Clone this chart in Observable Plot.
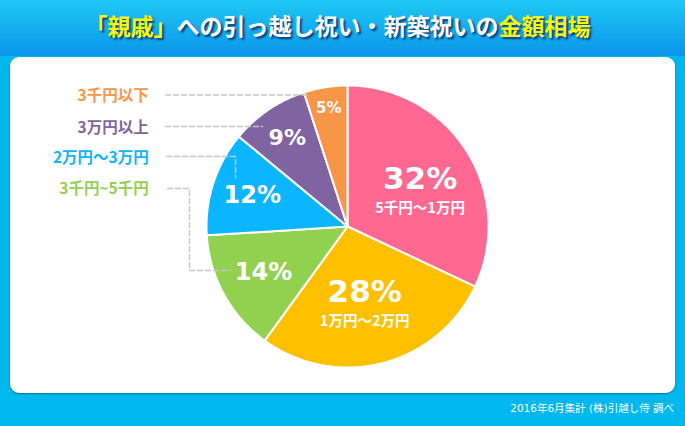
<!DOCTYPE html>
<html><head><meta charset="utf-8">
<script src="https://cdn.jsdelivr.net/npm/d3@7"></script>
<script src="https://cdn.jsdelivr.net/npm/@observablehq/plot@0.6"></script>
<style>
body{margin:0;}
#wrap{position:relative;width:685px;height:426px;background:#00B7EE;overflow:hidden;font-family:"DejaVu Sans","Noto Sans CJK JP",sans-serif;}
#header{position:absolute;left:0;top:0;width:685px;height:56px;background:linear-gradient(#20C8F4,#0A95EA);}
#title{position:absolute;left:-5px;top:8px;width:685px;text-align:center;font-family:"Noto Sans CJK JP",sans-serif;font-weight:bold;font-size:23px;line-height:34px;color:#fff;text-shadow:2px 2px 2px #0B3C78;}
#title .y{color:#F8F812;}
#panel{position:absolute;left:10px;top:57px;width:665px;height:336px;background:#fff;border-radius:9px;box-shadow:0 1px 2px rgba(0,0,0,0.35);}
#panel svg{position:absolute;left:0;top:0;}
#caption{position:absolute;right:11px;top:400px;font-family:"DejaVu Sans","Noto Sans CJK JP",sans-serif;font-size:10.5px;color:#fff;}
g[aria-label="sublabel"] text{letter-spacing:1px;}
g[aria-label="legend"] text{letter-spacing:1px;}
g[aria-label="bigpct"] text{letter-spacing:1px;}
</style>
</head><body>
<div id="wrap">
  <div id="header"></div>
  <div id="title"><span class="y">「親戚」</span>への引っ越し祝い・新築祝いの<span class="y">金額相場</span></div>
  <div id="panel"></div>
  <div id="caption">2016年6月集計 (株)引越し侍 調べ</div>
</div>
<script>
// ---- data ----
const categories = ["5千円～1万円", "1万円～2万円", "3千円~5千円", "2万円～3万円", "3万円以上", "3千円以下"];
const values = [32, 28, 14, 12, 9, 5];
const sliceColors = ["#FF6891", "#FFC000", "#92D050", "#0BB5FF", "#8064A2", "#F79646"];
const insideSubLabels = ["5千円～1万円", "1万円～2万円", "", "", "", ""];
const legendOrder = ["3千円以下", "3万円以上", "2万円～3万円", "3千円~5千円"];

// ---- layout (in pie-radius units) ----
const labelRadius = [0.61, 0.49, 0.68, 0.71, 0.76, 0.85];
const legendX = -1.41;
const legendY = [0.925, 0.70, 0.487, 0.263];
const leaderPaths = [
  [[-1.291, 0.933], [-0.284, 0.933]],
  [[-1.291, 0.709], [-0.603, 0.709]],
  [[-1.284, 0.496], [-0.794, 0.496], [-0.794, 0.348]],
  [[-1.277, 0.270], [-1.121, 0.270], [-1.121, -0.312], [-0.830, -0.312]]
];

// ---- build ----
const rows = categories.map((c, i) => ({cat: c, value: values[i], sub: insideSubLabels[i], lr: labelRadius[i]}));
const arcs = d3.pie().sort(null).value(d => d.value).startAngle(0).endAngle(2 * Math.PI)(rows);

const poly = arcs.flatMap(a => {
  const pts = [{cat: a.data.cat, x: 0, y: 0}];
  const n = Math.max(4, Math.ceil((a.endAngle - a.startAngle) / 0.01));
  for (let i = 0; i <= n; i++) {
    const t = a.startAngle + (a.endAngle - a.startAngle) * i / n;
    pts.push({cat: a.data.cat, x: Math.sin(t), y: Math.cos(t)});
  }
  pts.push({cat: a.data.cat, x: 0, y: 0});
  return pts;
});

const pctLabels = arcs.map(a => {
  const m = (a.startAngle + a.endAngle) / 2;
  const v = a.data.value;
  return {
    cat: a.data.cat, sub: a.data.sub,
    text: v + "%",
    x: Math.sin(m) * a.data.lr, y: Math.cos(m) * a.data.lr,
    size: v >= 25 ? 31 : v >= 10 ? 24 : v >= 8 ? 22 : 15
  };
});

const legendRows = legendOrder.map((c, i) => ({cat: c, x: legendX, y: legendY[i]}));
const leaderRows = leaderPaths.flatMap((p, k) => p.map(([x, y]) => ({k, x, y})));

const cx = 337, cy = 169, R = 141;
const chart = Plot.plot({
  width: 665, height: 336,
  marginTop: 0, marginRight: 0, marginBottom: 0, marginLeft: 0,
  x: {domain: [-1, 1], range: [cx - R, cx + R], axis: null},
  y: {domain: [-1, 1], range: [cy + R, cy - R], axis: null},
  color: {domain: categories, range: sliceColors},
  style: {background: "transparent", fontFamily: "'DejaVu Sans','Noto Sans CJK JP',sans-serif"},
  marks: [
    Plot.line(poly, {x: "x", y: "y", z: "cat", fill: "cat", stroke: "white", strokeWidth: 2, strokeLinejoin: "round"}),
    Plot.line(leaderRows, {x: "x", y: "y", z: "k", stroke: "#C8C8C8", strokeWidth: 1.5, strokeDasharray: "5,3"}),
    Plot.text(pctLabels.filter(d => !d.sub), {x: "x", y: "y", text: "text", fill: "white", fontWeight: "bold", fontSize: "size"}),
    Plot.text(pctLabels.filter(d => d.sub), {x: "x", y: "y", text: "text", fill: "white", fontWeight: "bold", fontSize: "size", dy: -1, ariaLabel: "bigpct"}),
    Plot.text(pctLabels.filter(d => d.sub), {x: "x", y: "y", text: "sub", fill: "white", fontWeight: "bold", fontSize: 14.5, dy: 28, ariaLabel: "sublabel", fontFamily: "'Noto Sans CJK JP',sans-serif"}),
    Plot.text(legendRows, {x: "x", y: "y", text: "cat", fill: "cat", textAnchor: "end", fontWeight: "bold", fontSize: 15.5, ariaLabel: "legend", fontFamily: "'Noto Sans CJK JP',sans-serif"})
  ]
});
document.getElementById("panel").appendChild(chart);
</script>
</body></html>
